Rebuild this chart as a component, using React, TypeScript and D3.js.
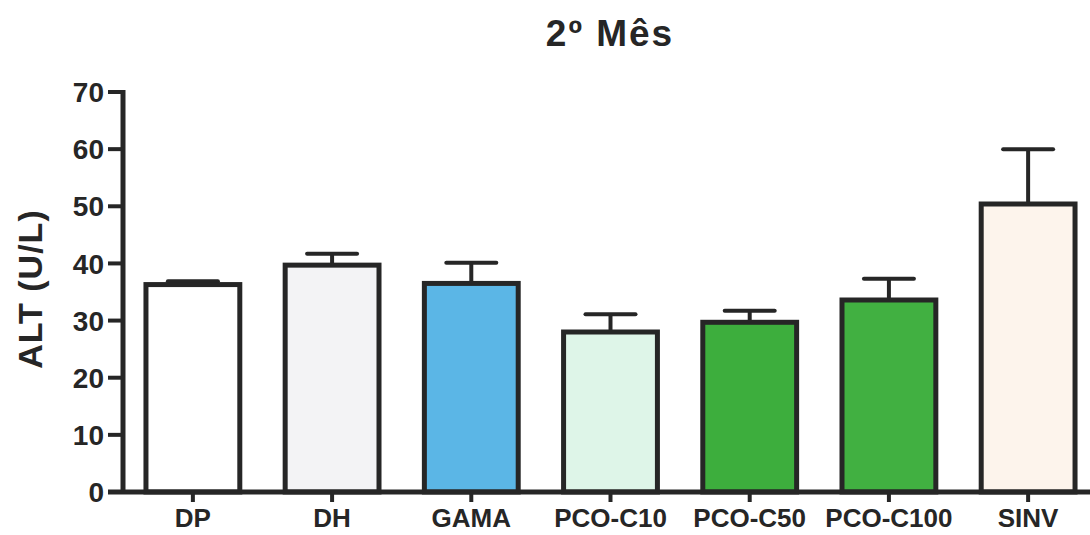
import React from 'react'
import * as d3 from 'd3'

const groups = ['DP', 'DH', 'GAMA', 'PCO-C10', 'PCO-C50', 'PCO-C100', 'SINV']
const means = [36.3, 39.7, 36.5, 28.0, 29.7, 33.6, 50.4]
const errors = [0.6, 2.0, 3.6, 3.1, 2.0, 3.7, 9.6]
const fills = ['#ffffff', '#f3f3f5', '#5bb6e6', '#def5e8', '#3dae3d', '#41b041', '#fdf4ec']
const yTicks = [0, 10, 20, 30, 40, 50, 60, 70]

const W = 1090
const H = 535
const ink = '#262626'
const font = '"Liberation Sans", Arial, sans-serif'

export default function App() {
  const x = d3
    .scaleBand()
    .domain(groups)
    .range([123, 1098])
    .paddingInner(0.29)
    .paddingOuter(0.147)

  const y = d3.scaleLinear().domain([0, 70]).range([492, 92])

  const bw = x.bandwidth()

  return (
    <svg
      width={W}
      height={H}
      style={{ position: 'absolute', left: 0, top: 0, background: '#fff' }}
      fontFamily={font}
    >
      <text
        x={610}
        y={46}
        textAnchor="middle"
        fontSize={37}
        fontWeight="bold"
        letterSpacing={2}
        fill={ink}
      >
        2º Mês
      </text>

      <text
        transform="translate(42,289) rotate(-90)"
        textAnchor="middle"
        fontSize={34}
        fontWeight="bold"
        letterSpacing={1}
        fill={ink}
      >
        ALT (U/L)
      </text>

      {/* bars */}
      {groups.map((g, i) => {
        const x0 = x(g)
        const cx = x0 + bw / 2
        return (
          <g key={g}>
            <line
              x1={cx}
              x2={cx}
              y1={y(means[i])}
              y2={y(means[i] + errors[i])}
              stroke={ink}
              strokeWidth={4}
            />
            <line
              x1={cx - 25}
              x2={cx + 25}
              y1={y(means[i] + errors[i])}
              y2={y(means[i] + errors[i])}
              stroke={ink}
              strokeWidth={4}
              strokeLinecap="round"
            />
            <rect
              x={x0 + 2.5}
              y={y(means[i])}
              width={bw - 5}
              height={y(0) - y(means[i])}
              fill={fills[i]}
              stroke={ink}
              strokeWidth={5}
            />
          </g>
        )
      })}

      {/* y axis */}
      <line x1={123} x2={123} y1={y(70) - 2} y2={y(0)} stroke={ink} strokeWidth={5} />
      {yTicks.map(t => (
        <g key={t}>
          <line x1={108} x2={123} y1={y(t)} y2={y(t)} stroke={ink} strokeWidth={4} />
          <text
            x={104}
            y={y(t)}
            dy="0.36em"
            textAnchor="end"
            fontSize={28}
            fontWeight="bold"
            fill={ink}
          >
            {t}
          </text>
        </g>
      ))}

      {/* x axis */}
      <line x1={108} x2={W} y1={y(0)} y2={y(0)} stroke={ink} strokeWidth={5} />
      {groups.map(g => {
        const cx = x(g) + bw / 2
        return (
          <g key={g}>
            <line x1={cx} x2={cx} y1={y(0)} y2={y(0) + 10} stroke={ink} strokeWidth={4} />
            <text
              x={cx}
              y={527}
              textAnchor="middle"
              fontSize={26}
              fontWeight="bold"
              fill={ink}
            >
              {g}
            </text>
          </g>
        )
      })}
    </svg>
  )
}
